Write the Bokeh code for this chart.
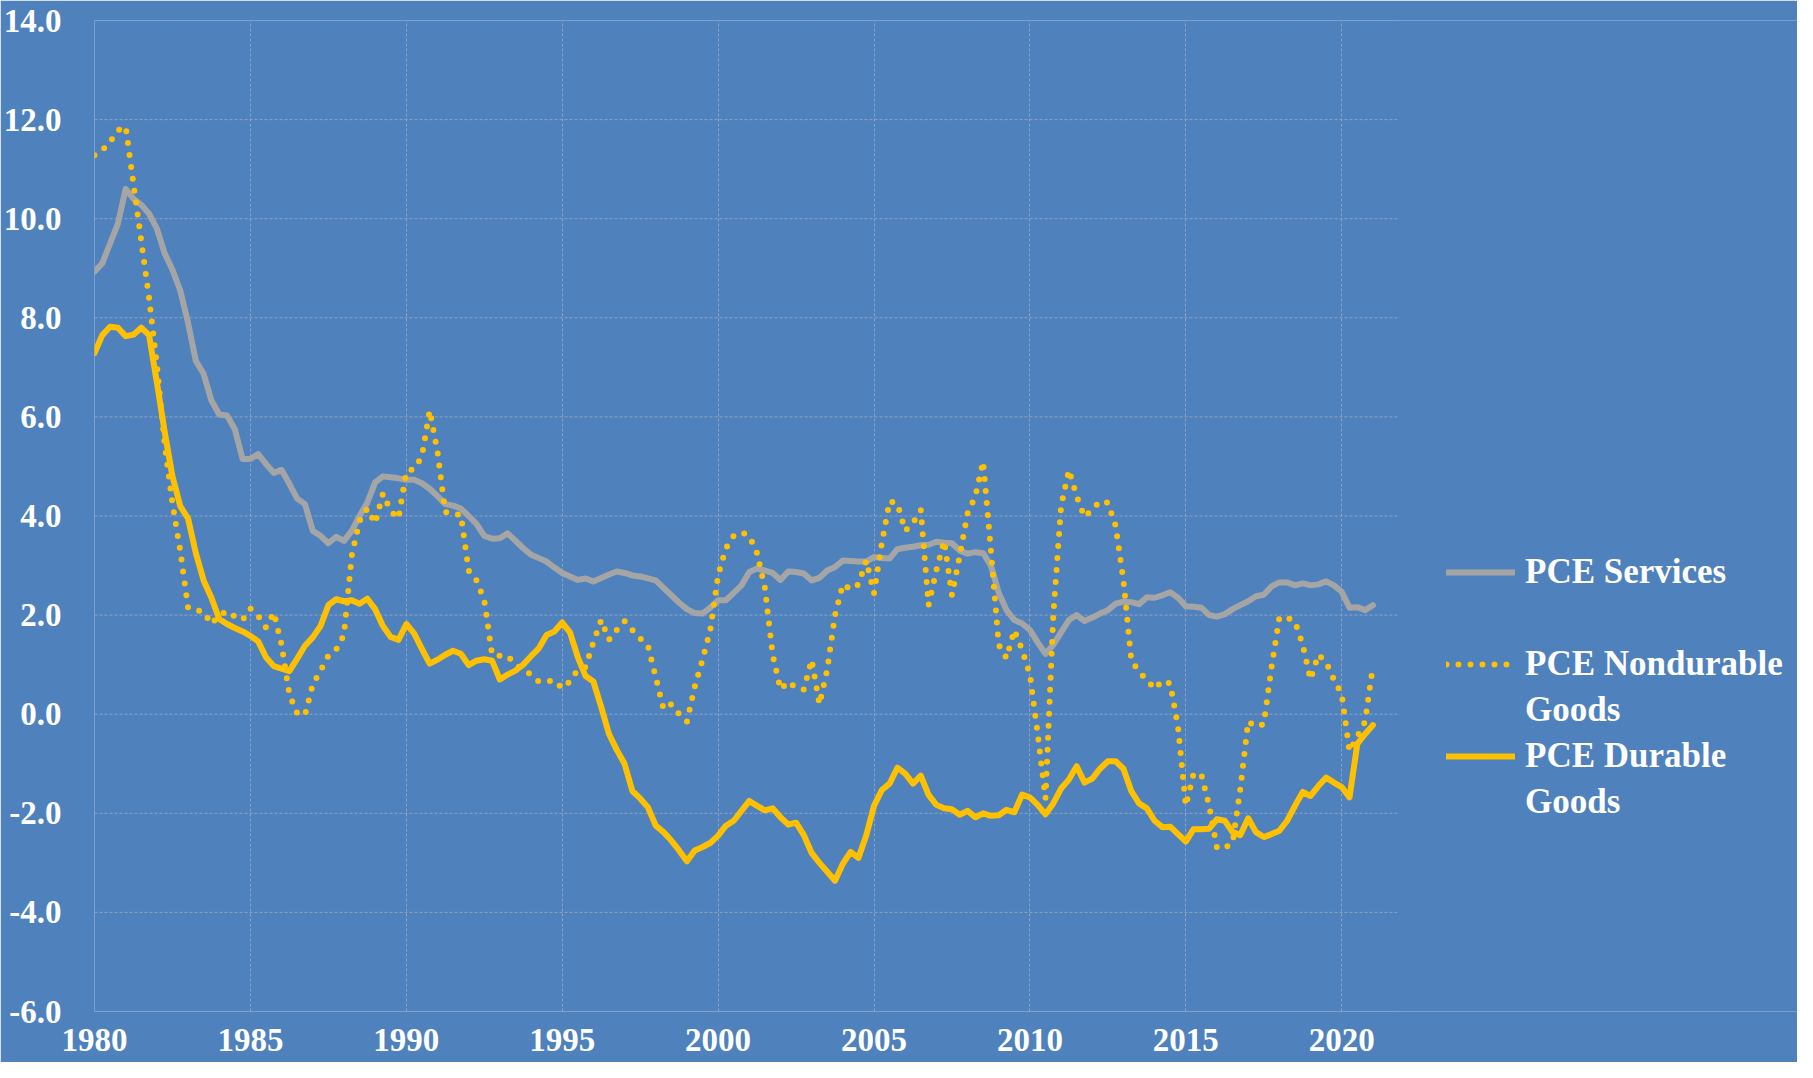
from bokeh.plotting import figure
from bokeh.models import Range1d, FixedTicker, NumeralTickFormatter, Legend, LegendItem
from bokeh.embed import file_html
from bokeh.resources import INLINE

# ---- data (quarterly, 1980Q1 .. 2021Q1) ----
start_year = 1980
services = [
    8.93, 9.1, 9.5, 9.9,
    10.6, 10.4, 10.28, 10.1,
    9.8, 9.3, 8.97, 8.55,
    7.9, 7.13, 6.87, 6.33,
    6.05, 6.03, 5.75, 5.15,
    5.15, 5.25, 5.05, 4.87,
    4.93, 4.65, 4.35, 4.24,
    3.7, 3.6, 3.45, 3.58,
    3.5, 3.7, 4.0, 4.27,
    4.68, 4.8, 4.78, 4.76,
    4.73, 4.73, 4.66, 4.55,
    4.4, 4.24, 4.21, 4.15,
    4.0, 3.84, 3.6, 3.54,
    3.55, 3.65, 3.5, 3.35,
    3.22, 3.15, 3.08, 2.96,
    2.85, 2.78, 2.71, 2.74,
    2.68, 2.75, 2.82, 2.88,
    2.85, 2.8, 2.78, 2.74,
    2.7, 2.55, 2.4, 2.25,
    2.12, 2.04, 2.03, 2.15,
    2.3, 2.3, 2.45, 2.6,
    2.87, 2.94, 2.9, 2.85,
    2.71, 2.88, 2.87, 2.84,
    2.7, 2.75, 2.9, 2.97,
    3.1, 3.09, 3.08, 3.08,
    3.17, 3.15, 3.14, 3.33,
    3.36, 3.38, 3.41, 3.42,
    3.48, 3.46, 3.45, 3.3,
    3.24, 3.27, 3.25, 3.0,
    2.45, 2.1, 1.9, 1.83,
    1.7, 1.45, 1.22, 1.4,
    1.65, 1.9, 2.0, 1.88,
    1.95, 2.03, 2.1, 2.23,
    2.27, 2.26, 2.22, 2.36,
    2.35, 2.4, 2.46, 2.35,
    2.18, 2.17, 2.15, 2.0,
    1.97, 2.02, 2.12, 2.2,
    2.28, 2.38, 2.41, 2.58,
    2.66, 2.66, 2.6, 2.64,
    2.6, 2.62, 2.68, 2.6,
    2.47, 2.15, 2.16, 2.1,
    2.2,
]
nondurable = [
    11.28, 11.38, 11.55, 11.78,
    11.86, 10.7, 9.55, 8.4,
    7.05, 5.45, 4.25, 3.3,
    2.15, 2.1, 2.07, 1.82,
    2.0, 2.08, 1.97, 1.9,
    2.13, 1.98, 1.75, 2.05,
    1.4, 0.4, 0.02, -0.02,
    0.6, 0.88, 1.18, 1.3,
    1.6, 3.2, 3.9, 4.15,
    3.85, 4.45, 4.1, 3.95,
    4.9, 4.95, 5.2, 6.13,
    5.3, 4.08, 4.03, 4.03,
    2.9, 2.7, 2.3, 1.2,
    1.18, 1.18, 1.0, 0.9,
    0.8, 0.66, 0.66, 0.68,
    0.52, 0.66, 0.9, 0.95,
    1.45, 1.9, 1.5, 1.7,
    1.88, 1.7, 1.53, 1.38,
    0.75, 0.1, 0.2, 0.0,
    -0.15, 0.55, 1.1, 1.7,
    2.8, 3.35, 3.6, 3.67,
    3.6, 3.25, 2.55, 1.2,
    0.5, 0.66, 0.53, 0.5,
    1.1, 0.2, 0.9, 2.0,
    2.62, 2.52, 2.62, 3.1,
    2.44, 3.45, 4.3, 4.25,
    3.7, 3.86, 4.12, 2.2,
    2.9, 3.5, 2.4, 3.2,
    4.05, 4.4, 5.1, 3.3,
    1.4, 1.13, 1.7, 1.3,
    0.8, -0.4, -1.7, 2.0,
    4.2, 4.93, 4.4, 3.98,
    4.13, 4.3, 4.27, 3.8,
    2.7, 1.1, 0.85, 0.7,
    0.51, 0.68, 0.62, -0.25,
    -1.85, -1.2, -1.22, -1.85,
    -2.7, -2.7, -2.6, -1.5,
    -0.15, -0.25, -0.2, 0.95,
    1.95, 1.95, 1.87, 1.4,
    0.7, 1.2, 1.05, 0.7,
    0.4, -0.75, -0.45, -0.15,
    0.97,
]
durable = [
    7.29, 7.65, 7.82, 7.8,
    7.63, 7.66, 7.8, 7.65,
    6.7, 5.7, 4.8, 4.2,
    3.95, 3.25, 2.7, 2.35,
    1.92, 1.82, 1.74, 1.67,
    1.58, 1.47, 1.15, 0.97,
    0.92, 0.87, 1.12, 1.38,
    1.55, 1.78, 2.2, 2.32,
    2.28, 2.3, 2.23, 2.33,
    2.12, 1.78, 1.56, 1.5,
    1.82, 1.63, 1.32, 1.02,
    1.1, 1.2, 1.28, 1.22,
    0.99, 1.08, 1.11, 1.08,
    0.7, 0.8, 0.88, 1.0,
    1.17, 1.33, 1.6, 1.67,
    1.85, 1.65, 1.15, 0.77,
    0.66, 0.15, -0.4, -0.72,
    -1.0, -1.55, -1.7, -1.88,
    -2.25, -2.38, -2.55, -2.75,
    -2.97, -2.75, -2.68, -2.6,
    -2.45, -2.25, -2.15, -1.95,
    -1.75, -1.85, -1.94, -1.9,
    -2.08, -2.23, -2.19, -2.44,
    -2.8, -3.0, -3.18, -3.36,
    -3.02, -2.78, -2.9, -2.45,
    -1.85, -1.53, -1.4, -1.08,
    -1.2, -1.4, -1.24, -1.63,
    -1.83, -1.9, -1.92, -2.03,
    -1.95, -2.08, -2.0, -2.05,
    -2.04, -1.93, -1.98, -1.62,
    -1.68, -1.83, -2.02, -1.8,
    -1.5, -1.32, -1.05, -1.38,
    -1.3, -1.1, -0.95, -0.95,
    -1.1, -1.55, -1.8, -1.9,
    -2.15, -2.28, -2.27, -2.42,
    -2.57, -2.32, -2.32, -2.31,
    -2.12, -2.15, -2.38, -2.44,
    -2.1, -2.38, -2.48, -2.42,
    -2.35, -2.15, -1.85, -1.57,
    -1.65, -1.45, -1.28, -1.38,
    -1.47, -1.68, -0.6, -0.4,
    -0.22,
]
x_ticks = [1980, 1985, 1990, 1995, 2000, 2005, 2010, 2015, 2020]
y_ticks = [-6, -4, -2, 0, 2, 4, 6, 8, 10, 12, 14]
labels = ["PCE Services", "PCE Nondurable", "Goods", "PCE Durable", "Goods"]

quarters = [start_year + i / 4 for i in range(len(services))]

BG = "#4F81BD"
GRAY = "#A5A5A5"
GOLD = "#FFC000"
GRID = "#8EA3C2"
FONT = "Liberation Serif"

# layout: the plotting area (with grid) ends at AXIS_END; the frame continues
# to the right edge so the legend can sit there.
W, H = 1797, 1062
LEFT, TOP, BOTTOM = 87, 20, 51
AXIS_START, AXIS_END = 1980, 2021.81
GRID_RIGHT_PX = 1396
x_end = AXIS_START + (AXIS_END - AXIS_START) * (W - LEFT) / (GRID_RIGHT_PX - LEFT)

p = figure(width=W, height=H, output_backend="svg", toolbar_location=None,
           x_range=Range1d(AXIS_START, x_end), y_range=Range1d(-6, 14),
           min_border_left=LEFT, min_border_right=0, min_border_top=TOP,
           min_border_bottom=BOTTOM,
           background_fill_color=BG, border_fill_color=BG, outline_line_color=None)

# horizontal grid lines, limited to the plotting area
p.segment(x0=[AXIS_START] * len(y_ticks), y0=y_ticks,
          x1=[AXIS_END] * len(y_ticks), y1=y_ticks,
          line_color=GRID, line_width=1, line_dash="3 2")

r_s = p.line(quarters, services, line_color=GRAY, line_width=6, line_join="round", line_cap="round")
r_d = p.line(quarters, durable, line_color=GOLD, line_width=6, line_join="round", line_cap="round")
r_n = p.line(quarters, nondurable, line_color=GOLD, line_width=6, line_dash="0 12",
             line_join="round", line_cap="round")
r_blank = p.line([], [], line_alpha=0)

for ax in (p.xaxis, p.yaxis):
    ax.axis_line_color = None
    ax.major_tick_line_color = None
    ax.minor_tick_line_color = None
    ax.major_label_text_font = FONT
    ax.major_label_text_font_style = "bold"
    ax.major_label_text_font_size = "33px"
    ax.major_label_text_color = "white"

p.xaxis.ticker = FixedTicker(ticks=x_ticks)
p.xaxis.formatter = NumeralTickFormatter(format="0")
p.xaxis.major_label_standoff = 11
p.yaxis.ticker = FixedTicker(ticks=y_ticks)
p.yaxis.formatter = NumeralTickFormatter(format="0.0")
p.yaxis.major_label_standoff = 27

p.xgrid.ticker = FixedTicker(ticks=x_ticks)
p.xgrid.grid_line_color = GRID
p.xgrid.grid_line_width = 1
p.xgrid.grid_line_dash = "3 2"
p.ygrid.grid_line_color = None

legend = Legend(items=[
    LegendItem(label=labels[0], renderers=[r_s]),
    LegendItem(label=" ", renderers=[r_blank]),
    LegendItem(label=labels[1], renderers=[r_n]),
    LegendItem(label=labels[2], renderers=[r_blank]),
    LegendItem(label=labels[3], renderers=[r_d]),
    LegendItem(label=labels[4], renderers=[r_blank]),
], location=(1352, 186), orientation="vertical",
    label_text_font=FONT, label_text_font_style="bold", label_text_font_size="35px",
    label_text_color="white", label_height=46, glyph_height=46, glyph_width=69,
    label_standoff=10, spacing=0, padding=0, margin=0,
    border_line_color=None, background_fill_alpha=0)
p.add_layout(legend, "center")

open("out.html", "w").write(file_html(p, INLINE))
